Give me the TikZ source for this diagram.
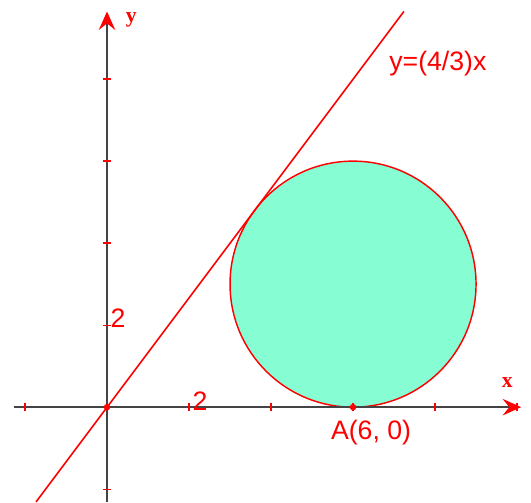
\documentclass[tikz,border=0pt]{standalone}
\usepackage{fontspec}
\setmainfont{Liberation Sans}
\newfontfamily\axisfont{Liberation Serif}
\usepackage{xcolor}
\definecolor{axisgray}{RGB}{68, 68, 68}
\definecolor{discfill}{RGB}{135, 253, 212}
\usetikzlibrary{arrows.meta,calc}

\begin{document}
\begin{tikzpicture}[
  axis/.style={draw=axisgray, line width=1.4pt, -{Stealth[length=4.5mm, width=4mm, inset=1.6mm, color=red]}},
  tick/.style={draw=red, line width=0.9pt},
  lbl/.style={text=red, font=\fontsize{18.5}{22}\selectfont, inner sep=0pt},
  axislbl/.style={text=red, font=\axisfont\bfseries\fontsize{15}{18}\selectfont, inner sep=0pt}
]
\useasboundingbox (-2.61,-2.32) rectangle (10.34,9.93);

% axes
\coordinate (O) at (0,0);
\coordinate (xl) at (-2.27,0);
\coordinate (xr) at (10.1,0);
\coordinate (yb) at (0,-2.32);
\coordinate (yt) at (0,9.65);
\coordinate (A) at (6,0);
\coordinate (C) at (6,3);

% disc tangent to the x-axis and to the line
\draw[red, line width=1pt, fill=discfill] (C) circle (3);

\draw[axis] (xl) -- (xr);
\draw[axis] (yb) -- (yt);

% ticks
\foreach \t in {-2,2,4,6,8,10}
  \draw[tick] (\t,-0.1) -- (\t,0.1);
\foreach \t in {-2,2,4,6,8}
  \draw[tick] (-0.1,\t) -- (0.1,\t);

% the line y=(4/3)x
\coordinate (lb) at (-1.73,-2.31);
\coordinate (lt) at (7.24,9.65);
\draw[red, line width=1.1pt] (lb) -- (lt);

\fill[red] (O) circle (0.08);
\fill[red] (A) circle (0.08);

\node[axislbl] (ylab) at (0.59,9.44) {y};
\node[axislbl] (xlab) at (9.76,0.59) {x};
\node[lbl] (two y) at (0.27,2.17) {2};
\node[lbl] (two x) at (2.27,0.15) {2};
\node[lbl] (Alab) at (6.44,-0.63) {A(6, 0)};
\node[lbl] (eq) at (8.07,8.37) {y=(4/3)x};
\end{tikzpicture}
\end{document}
